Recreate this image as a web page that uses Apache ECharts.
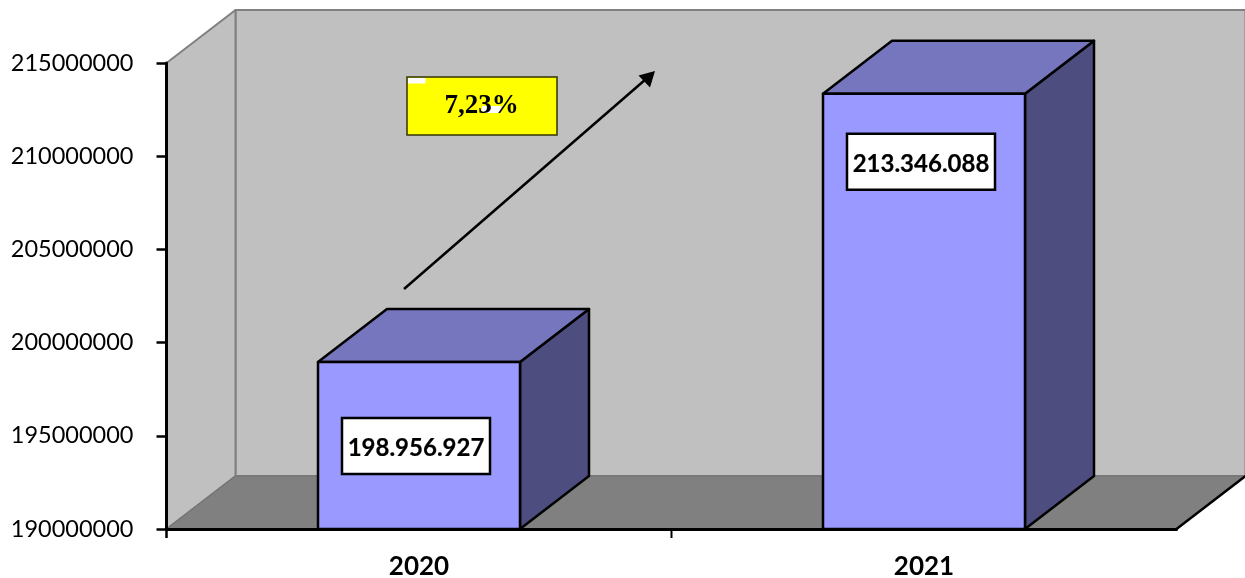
<!DOCTYPE html>
<html>
<head>
<meta charset="utf-8">
<style>html,body{margin:0;padding:0;background:#fff}#c{width:1245px;height:578px}</style>
<script src="https://cdn.jsdelivr.net/npm/echarts@6/dist/echarts.min.js"></script>
</head>
<body>
<div id="c"></div>
<script>
const years = ['2020', '2021'];
const values = [198956927, 213346088];
const valueLabels = ['198.956.927', '213.346.088'];
const changeLabel = '7,23%';
const yMin = 190000000, yMax = 215000000, yStep = 5000000;

// layout
const depthX = 69, depthY = 53;
const labelBoxW = 148, labelBoxH = 56;
const labelDrop = [56, 40];

const chart = echarts.init(document.getElementById('c'), null, {renderer: 'canvas'});

function poly(points, fill, stroke, lw) {
  return {type: 'polygon', shape: {points}, style: {fill, stroke: stroke || null, lineWidth: lw || 0, lineJoin: 'round'}};
}
function seg(a, b, stroke, lw) {
  return {type: 'line', shape: {x1: a[0], y1: a[1], x2: b[0], y2: b[1]}, style: {stroke, lineWidth: lw}};
}

function renderRoom(params) {
  const g = params.coordSys;
  const l = g.x, r = g.x + g.width, t = g.y, b = g.y + g.height;
  const grey = '#808080';
  const mid = l + g.width / 2;
  return {type: 'group', children: [
    poly([[l + depthX, t - depthY], [r + depthX, t - depthY], [r + depthX, b - depthY], [l + depthX, b - depthY]], '#C0C0C0', grey, 2),
    poly([[l, t], [l + depthX, t - depthY], [l + depthX, b - depthY], [l, b]], '#C0C0C0', grey, 2),
    poly([[l, b], [l + depthX, b - depthY], [r + depthX, b - depthY], [r, b]], '#808080', '#707070', 1),
    seg([r, b], [r + depthX, b - depthY], '#000', 2.5),
    seg([l, b], [l, b + 9], '#000', 2.5),
    seg([mid, b], [mid, b + 9], '#000', 2)
  ]};
}

function renderBar(params, api) {
  const i = api.value(0);
  const top = api.coord([i, api.value(1)]);
  const base = api.coord([i, yMin]);
  const w = api.size([1, 0])[0] * 0.4;
  const x0 = top[0] - w / 2, x1 = top[0] + w / 2, yT = top[1], yB = base[1];
  const dx = depthX, dy = depthY, k = '#000', lw = 2.5;
  const by = yT + labelDrop[i];
  const bx = top[0] - labelBoxW / 2 - 3;
  return {type: 'group', children: [
    poly([[x1, yT], [x1 + dx, yT - dy], [x1 + dx, yB - dy], [x1, yB]], '#4D4D80', k, lw),
    poly([[x0, yT], [x0 + dx, yT - dy], [x1 + dx, yT - dy], [x1, yT]], '#7676BF', k, lw),
    poly([[x0, yT], [x1, yT], [x1, yB], [x0, yB]], '#9999FF', k, lw),
    {type: 'rect', shape: {x: bx, y: by, width: labelBoxW, height: labelBoxH},
     style: {fill: '#fff', stroke: '#000', lineWidth: 2.5}},
    {type: 'text', style: {x: bx + labelBoxW / 2, y: by + labelBoxH / 2 + 2, text: valueLabels[i],
      font: 'bold 24px Lato', fill: '#000', stroke: '#000', lineWidth: 0.2, align: 'center', verticalAlign: 'middle'}}
  ]};
}

chart.setOption({
  animation: false,
  backgroundColor: '#fff',
  grid: {left: 166.5, right: 68.5, top: 63, height: 466, containLabel: false, outerBoundsMode: 'none'},
  xAxis: {
    type: 'category', data: years, boundaryGap: true,
    axisLine: {show: true, onZero: false, lineStyle: {color: '#000', width: 3}},
    axisTick: {show: false},
    axisLabel: {color: '#000', fontFamily: 'Lato', fontWeight: 'bold', fontSize: 26, margin: 25},
    splitLine: {show: false}
  },
  yAxis: {
    type: 'value', min: yMin, max: yMax, interval: yStep,
    axisLine: {show: true, onZero: false, lineStyle: {color: '#000', width: 3}},
    axisTick: {show: true, length: 10, lineStyle: {color: '#000', width: 2.5}},
    axisLabel: {color: '#000', fontFamily: 'Lato', fontSize: 23.5, margin: 33, formatter: v => String(v)},
    splitLine: {show: false}
  },
  series: [
    {type: 'custom', name: 'room', coordinateSystem: 'cartesian2d', z: 0, silent: true, clip: false,
     data: [[0, yMin]], renderItem: renderRoom},
    {type: 'custom', name: 'value', coordinateSystem: 'cartesian2d', z: 1, clip: false,
     encode: {x: 0, y: 1},
     data: values.map((v, i) => [i, v]), renderItem: renderBar}
  ],
  graphic: [
    {type: 'rect', z: 10, shape: {x: 407, y: 77, width: 150, height: 58},
     style: {fill: '#FFFF00', stroke: '#333300', lineWidth: 1.5}},
    {type: 'rect', z: 10, shape: {x: 408, y: 78, width: 17.5, height: 5.5}, style: {fill: '#fff'}},
    {type: 'rect', z: 10, shape: {x: 482, y: 106, width: 19, height: 7}, style: {fill: '#fff'}},
    {type: 'text', z: 11, style: {x: 481.5, y: 106.5, text: changeLabel, font: 'bold 27px "Liberation Serif"',
      fill: '#000', align: 'center', verticalAlign: 'middle'}},
    {type: 'line', z: 10, shape: {x1: 404, y1: 289, x2: 646, y2: 79}, style: {stroke: '#000', lineWidth: 2.5}},
    {type: 'polygon', z: 10, shape: {points: [[655, 71], [638.5, 75.5], [650, 87.5]]}, style: {fill: '#000'}}
  ]
});
</script>
</body>
</html>
